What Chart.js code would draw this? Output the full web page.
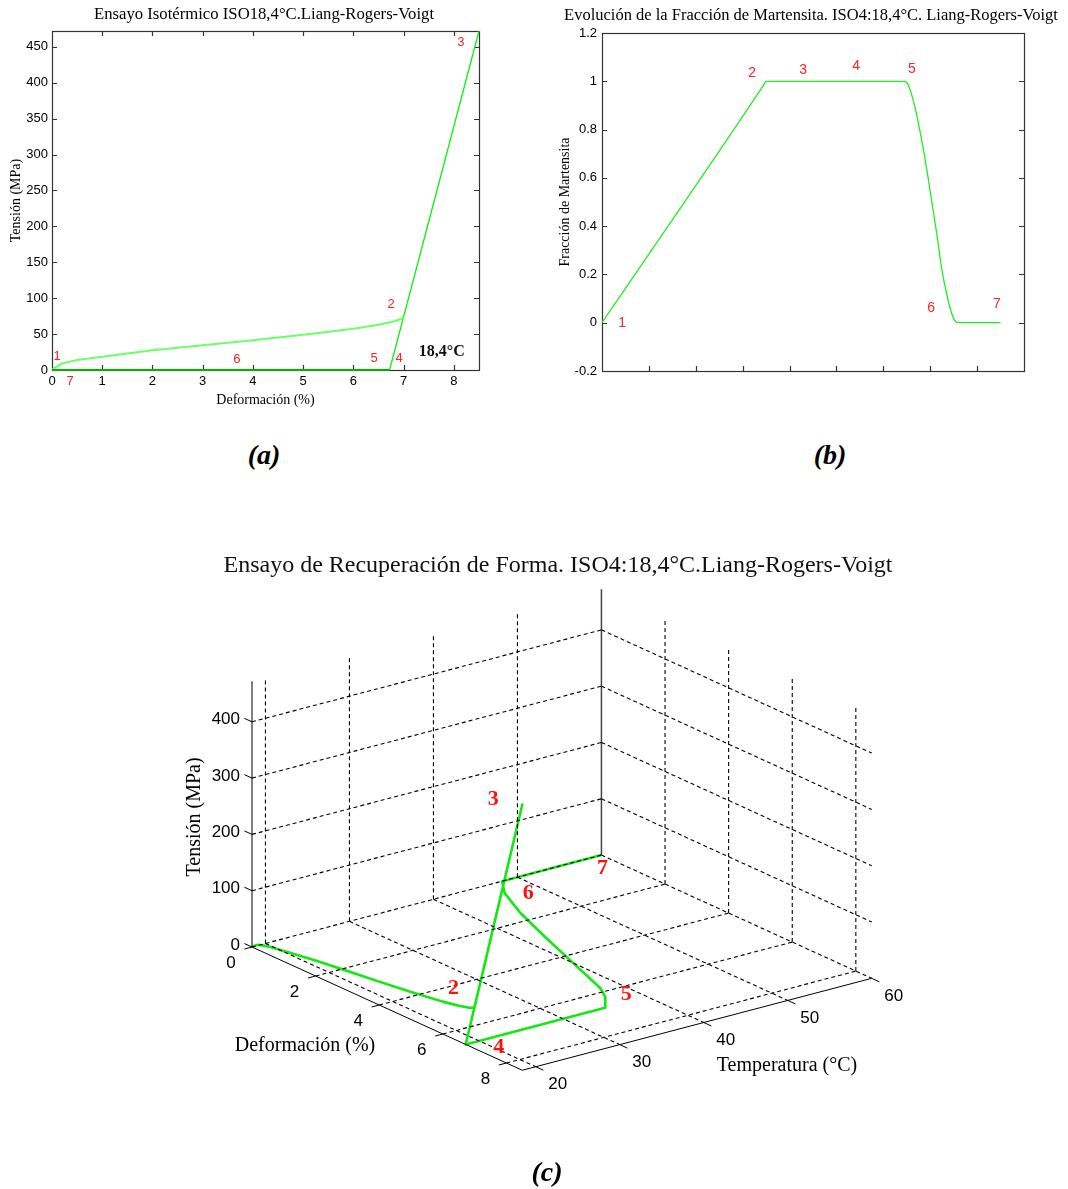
<!DOCTYPE html>
<html><head><meta charset="utf-8">
<script src="https://cdn.jsdelivr.net/npm/chart.js@4.4.1/dist/chart.umd.min.js"></script>
<style>
html,body{margin:0;padding:0;background:#fff;}
body{width:1068px;height:1189px;position:relative;overflow:hidden;}
canvas{position:absolute;}
.cap{position:absolute;font:bold italic 28px "Liberation Serif",serif;transform:translate(-50%,-50%);color:#000;white-space:nowrap;}
</style></head><body>
<canvas id="ca" style="left:0;top:0" width="534" height="420"></canvas>
<canvas id="cb" style="left:534px;top:0" width="534" height="420"></canvas>
<canvas id="cc" style="left:0;top:480px" width="1068" height="680"></canvas>
<div class="cap" style="left:264px;top:455px">(a)</div>
<div class="cap" style="left:830px;top:455px">(b)</div>
<div class="cap" style="left:547px;top:1172px">(c)</div>
<script>
// ===== DATA =====
// Shape-recovery path (shared by (a) and (c)): deformation %, temperature °C, stress MPa
const DEF    = [0,0.05,0.2,0.5,1,2,3,4,5,6,6.5,6.8,6.95,7.0, 8.5, 6.72, 6.72,6.25,5.80,4.39,2.99,1.60,0.55,0.08, 0, 0];
const TEMP   = [18.4,18.4,18.4,18.4,18.4,18.4,18.4,18.4,18.4,18.4,18.4,18.4,18.4,18.4, 18.4, 18.4, 35.0,36.8,37.9,40.0,42.1,44.3,46.4,47.9, 48.2, 60];
const STRESS = [0,3,9,14,18.5,27.5,34.5,41.5,49,57.5,63,67.5,71,74, 472, 0, 0,0,0,0,0,0,0,0, 0, 0];
// index of the numbered states 1..7 in the path
const STATE_IDX = [0,13,14,15,16,24,25];
const STATE_NAMES = ['1','2','3','4','5','6','7'];

// (b) martensite fraction vs. step
const TIME = [0,3.45,3.5,6.43,6.5,6.64,6.78,6.92,7.03,7.14,7.24,7.35,7.46,7.52,7.6,8.5];
const XI   = [0,0.985,1,1,0.995,0.92,0.795,0.643,0.505,0.368,0.23,0.12,0.037,0.01,0,0];

// tick labels
const A_XTICKS = [0,1,2,3,4,5,6,7,8];
const A_YTICKS = [0,50,100,150,200,250,300,350,400,450];
const B_YTICKS = [-0.2,0,0.2,0.4,0.6,0.8,1,1.2];
const C_DEF_TICKS = [0,2,4,6,8];
const C_TEMP_TICKS = [20,30,40,50,60];
const C_STRESS_TICKS = [0,100,200,300,400];

// annotation anchors (data space)
const A_LABEL_X = [0.10,6.75,8.14,6.91,6.41,3.68,0.36];
const A_LABEL_Y = [19.5,91.9,456.7,16.7,16.7,15.3,-15.3];
const A_LABEL_NAMES = ['1','2','3','4','5','6','7'];
const B_LABEL_X = [0.43,3.2,4.29,5.42,6.61,7.02,8.42];
const B_LABEL_Y = [0.0,1.034,1.047,1.063,1.051,0.061,0.077];

// ===== helpers =====
const SERIF = '"Liberation Serif","Times New Roman",serif';
const SANS = '"Liberation Sans",Arial,sans-serif';
function pts(xs, ys, from, to){ const o=[]; for(let i=from;i<=to;i++) o.push({x:xs[i],y:ys[i]}); return o; }
function crisp(v){ return Math.round(v)+0.5; }

function framePlugin(cfg){
  return {
    id:'frame',
    beforeDatasetsDraw(chart){
      const {ctx, chartArea:a} = chart;
      ctx.save(); ctx.strokeStyle='#333'; ctx.lineWidth=1.2;
      ctx.strokeRect(crisp(a.left), crisp(a.top), Math.round(a.right-a.left), Math.round(a.bottom-a.top));
      const L=5; ctx.beginPath();
      const xs=chart.scales.x, ys=chart.scales.y;
      cfg.xTicks.forEach(v=>{ const p=crisp(xs.getPixelForValue(v));
        ctx.moveTo(p,a.bottom); ctx.lineTo(p,a.bottom-L);
        if(cfg.topTicks){ ctx.moveTo(p,a.top); ctx.lineTo(p,a.top+L); } });
      cfg.yTicks.forEach(v=>{ const p=crisp(ys.getPixelForValue(v));
        ctx.moveTo(a.left,p); ctx.lineTo(a.left+L,p); ctx.moveTo(a.right,p); ctx.lineTo(a.right-L,p); });
      ctx.stroke(); ctx.restore();
    },
    afterDraw(chart){
      const {ctx, chartArea:a} = chart; const xs=chart.scales.x, ys=chart.scales.y;
      ctx.save(); ctx.fillStyle='#000'; ctx.textAlign='center'; ctx.textBaseline='middle';
      ctx.font = cfg.titleFont; ctx.fillText(cfg.title, cfg.titleX, cfg.titleY);
      if(cfg.xTitle){ ctx.font='14px '+SERIF; ctx.fillText(cfg.xTitle,(a.left+a.right)/2, cfg.xTitleY); }
      ctx.save(); ctx.translate(cfg.yTitleX,(a.top+a.bottom)/2); ctx.rotate(-Math.PI/2);
      ctx.font='14px '+SERIF; ctx.fillText(cfg.yTitle,0,0); ctx.restore();
      ctx.fillStyle='#ff2020'; ctx.font=cfg.labelFont;
      cfg.labels.forEach(l=>ctx.fillText(l.t, xs.getPixelForValue(l.x), ys.getPixelForValue(l.y)));
      if(cfg.extra) cfg.extra(ctx,xs,ys);
      ctx.restore();
    }
  };
}

// ===== (a) =====
new Chart(document.getElementById('ca'), {
  type:'scatter',
  data:{datasets:[
    {data:pts(DEF,STRESS,15,25), showLine:true, borderColor:'#00b400', borderWidth:2.2, pointRadius:0, clip:4},
    {data:pts(DEF,STRESS,0,13), showLine:true, borderColor:'#6cff6c', borderWidth:2, pointRadius:0, clip:4},
    {data:pts(DEF,STRESS,13,15), showLine:true, borderColor:'#10f010', borderWidth:1.3, pointRadius:0, clip:4}
  ]},
  options:{
    responsive:false, animation:false, events:[],
    layout:{padding:{left:0,right:55,top:31,bottom:0}},
    plugins:{legend:{display:false},tooltip:{enabled:false}},
    scales:{
      x:{type:'linear',min:0,max:8.5,afterFit:s=>{s.height=50;},
         grid:{display:false,drawTicks:false},border:{display:false},
         ticks:{stepSize:1,includeBounds:false,autoSkip:false,maxRotation:0,padding:4,color:'#000',font:{family:SANS,size:13}}},
      y:{type:'linear',min:0,max:472,afterFit:s=>{s.width=52;},
         grid:{display:false,drawTicks:false},border:{display:false},
         ticks:{stepSize:50,includeBounds:false,autoSkip:false,padding:4,color:'#000',font:{family:SANS,size:13}}}
    }
  },
  plugins:[framePlugin({
    title:'Ensayo Isotérmico ISO18,4°C.Liang-Rogers-Voigt', titleX:264, titleY:15, titleFont:'16.7px '+SERIF,
    xTitle:'Deformación (%)', xTitleY:400, yTitle:'Tensión (MPa)', yTitleX:16,
    xTicks:A_XTICKS.slice(1), yTicks:A_YTICKS.slice(1), topTicks:true,
    labelFont:'13px '+SANS,
    labels:A_LABEL_NAMES.map((t,i)=>({t,x:A_LABEL_X[i],y:A_LABEL_Y[i]})),
    extra:(ctx,xs,ys)=>{ ctx.fillStyle='#111'; ctx.font='bold 16px '+SERIF;
      ctx.fillText('18,4°C', xs.getPixelForValue(7.76), ys.getPixelForValue(25)); }
  })]
});

// ===== (b) =====
new Chart(document.getElementById('cb'), {
  type:'scatter',
  data:{datasets:[
    {data:pts(TIME,XI,0,TIME.length-1), showLine:true, borderColor:'#22ee22', borderWidth:1.3, pointRadius:0, cubicInterpolationMode:'monotone', clip:4}
  ]},
  options:{
    responsive:false, animation:false, events:[],
    layout:{padding:{left:0,right:44,top:33,bottom:0}},
    plugins:{legend:{display:false},tooltip:{enabled:false}},
    scales:{
      x:{type:'linear',min:0,max:9,afterFit:s=>{s.height=49;},
         grid:{display:false,drawTicks:false},border:{display:false},
         ticks:{display:false,stepSize:1}},
      y:{type:'linear',min:-0.2,max:1.2,afterFit:s=>{s.width=68;},
         grid:{display:false,drawTicks:false},border:{display:false},
         ticks:{stepSize:0.2,autoSkip:false,padding:5,color:'#000',font:{family:SANS,size:13},
           callback:v=>{ const r=Math.round(v*10)/10; return String(r===0?0:r); }}}
    }
  },
  plugins:[framePlugin({
    title:'Evolución de la Fracción de Martensita. ISO4:18,4°C. Liang-Rogers-Voigt', titleX:277, titleY:16, titleFont:'16.5px '+SERIF,
    xTitle:null, yTitle:'Fracción de Martensita', yTitleX:31,
    xTicks:[1,2,3,4,5,6,7,8], yTicks:B_YTICKS.slice(1,-1), topTicks:false,
    labelFont:'14px '+SANS,
    labels:STATE_NAMES.map((t,i)=>({t,x:B_LABEL_X[i],y:B_LABEL_Y[i]}))
  })]
});

// ===== (c) 3-D view (orthographic projection) =====
const DEF_RANGE=[0,8.5], TEMP_RANGE=[18.4,60], STRESS_RANGE=[0,472];
const VIEW = {ox:252, oy:947, ex:[31.8,14.5], et:[8.40,-2.21], es:[0,-0.563]};
function proj(d,t,s){
  const u=t-TEMP_RANGE[0];
  return {x:VIEW.ox+d*VIEW.ex[0]+u*VIEW.et[0]+s*VIEW.es[0], y:VIEW.oy+d*VIEW.ex[1]+u*VIEW.et[1]+s*VIEW.es[1]};
}
const ds=[];
function line3(a,b,style){ ds.push(Object.assign({data:[proj(...a),proj(...b)],showLine:true,pointRadius:0,borderWidth:1,borderColor:'#000',clip:false},style)); }
const dash={borderDash:[4,3],borderWidth:1.1,borderColor:'#000'};
const [d0,d1]=DEF_RANGE,[t0,t1]=TEMP_RANGE,[s0,s1]=STRESS_RANGE;
// grid: back-left wall (def = 0)
C_TEMP_TICKS.filter(t=>t<t1).forEach(t=>line3([d0,t,s0],[d0,t,s1],dash));
C_STRESS_TICKS.filter(s=>s>0).forEach(s=>line3([d0,t0,s],[d0,t1,s],dash));
// grid: back-right wall (temp = max)
C_DEF_TICKS.filter(d=>d>0).forEach(d=>line3([d,t1,s0],[d,t1,s1],dash));
C_STRESS_TICKS.filter(s=>s>0).forEach(s=>line3([d0,t1,s],[d1,t1,s],dash));
// grid: floor
C_TEMP_TICKS.filter(t=>t<t1).forEach(t=>line3([d0,t,s0],[d1,t,s0],dash));
C_DEF_TICKS.filter(d=>d>0).forEach(d=>line3([d,t0,s0],[d,t1,s0],dash));
line3([d0,t0,s0],[d0,t1,s0],dash);
line3([d0,t1,s0],[d1,t1,s0],dash);
// axes
line3([d0,t0,s0],[d0,t0,s1],{});
line3([d0,t0,s0],[d1,t0,s0],{});
line3([d1,t0,s0],[d1,t1,s0],{});
line3([d0,t1,s0],[d0,t1,s1],{borderColor:'#444',borderWidth:1.5});
// ticks
C_STRESS_TICKS.forEach(s=>line3([d0,t0,s],[d0-0.24,t0,s],{}));
C_DEF_TICKS.forEach(d=>line3([d,t0,s0],[d,t0-0.9,s0],{}));
C_TEMP_TICKS.forEach(t=>line3([d1,t,s0],[d1+0.24,t,s0],{}));
// path
ds.push({data:DEF.map((d,i)=>proj(d,TEMP[i],STRESS[i])),showLine:true,pointRadius:0,borderWidth:2.6,borderColor:'#12e812',clip:false,borderJoinStyle:'round'});

const C_LABEL_OFF = [null,[-21,-19],[-29,-5],[33,3],[21,-13],[26,12],[1,13]];
new Chart(document.getElementById('cc'), {
  type:'scatter',
  data:{datasets:ds},
  options:{
    responsive:false, animation:false, events:[],
    layout:{padding:0},
    plugins:{legend:{display:false},tooltip:{enabled:false}},
    scales:{x:{type:'linear',min:0,max:1068,display:false}, y:{type:'linear',min:480,max:1160,reverse:true,display:false}}
  },
  plugins:[{id:'c3d', afterDraw(chart){
    const ctx=chart.ctx, X=v=>chart.scales.x.getPixelForValue(v), Y=v=>chart.scales.y.getPixelForValue(v);
    ctx.save(); ctx.fillStyle='#111'; ctx.textBaseline='middle';
    ctx.font='24px '+SERIF; ctx.textAlign='center';
    ctx.fillText('Ensayo de Recuperación de Forma. ISO4:18,4°C.Liang-Rogers-Voigt', X(558), Y(566));
    ctx.font='17px '+SANS; ctx.fillStyle='#000';
    ctx.textAlign='right';
    C_STRESS_TICKS.forEach(s=>{const p=proj(d0,t0,s); ctx.fillText(String(s), X(p.x-12), Y(p.y-2));});
    ctx.textAlign='center';
    C_DEF_TICKS.forEach(d=>{const p=proj(d,t0,s0); ctx.fillText(String(d), X(p.x-21), Y(p.y+16));});
    C_TEMP_TICKS.forEach(t=>{const p=proj(d1,t,s0); ctx.fillText(String(t), X(p.x+22), Y(p.y+18));});
    ctx.font='20px '+SERIF;
    ctx.fillText('Deformación (%)', X(305), Y(1046));
    ctx.fillText('Temperatura (°C)', X(787), Y(1066));
    ctx.save(); ctx.translate(X(195),Y(817)); ctx.rotate(-Math.PI/2); ctx.fillText('Tensión (MPa)',0,0); ctx.restore();
    ctx.font='bold 22px '+SERIF; ctx.fillStyle='#ff1010';
    STATE_IDX.forEach((k,i)=>{ const o=C_LABEL_OFF[i]; if(!o) return;
      const p=proj(DEF[k],TEMP[k],STRESS[k]); ctx.fillText(STATE_NAMES[i], X(p.x+o[0]), Y(p.y+o[1])); });
    ctx.restore();
  }}]
});
</script>
</body></html>
